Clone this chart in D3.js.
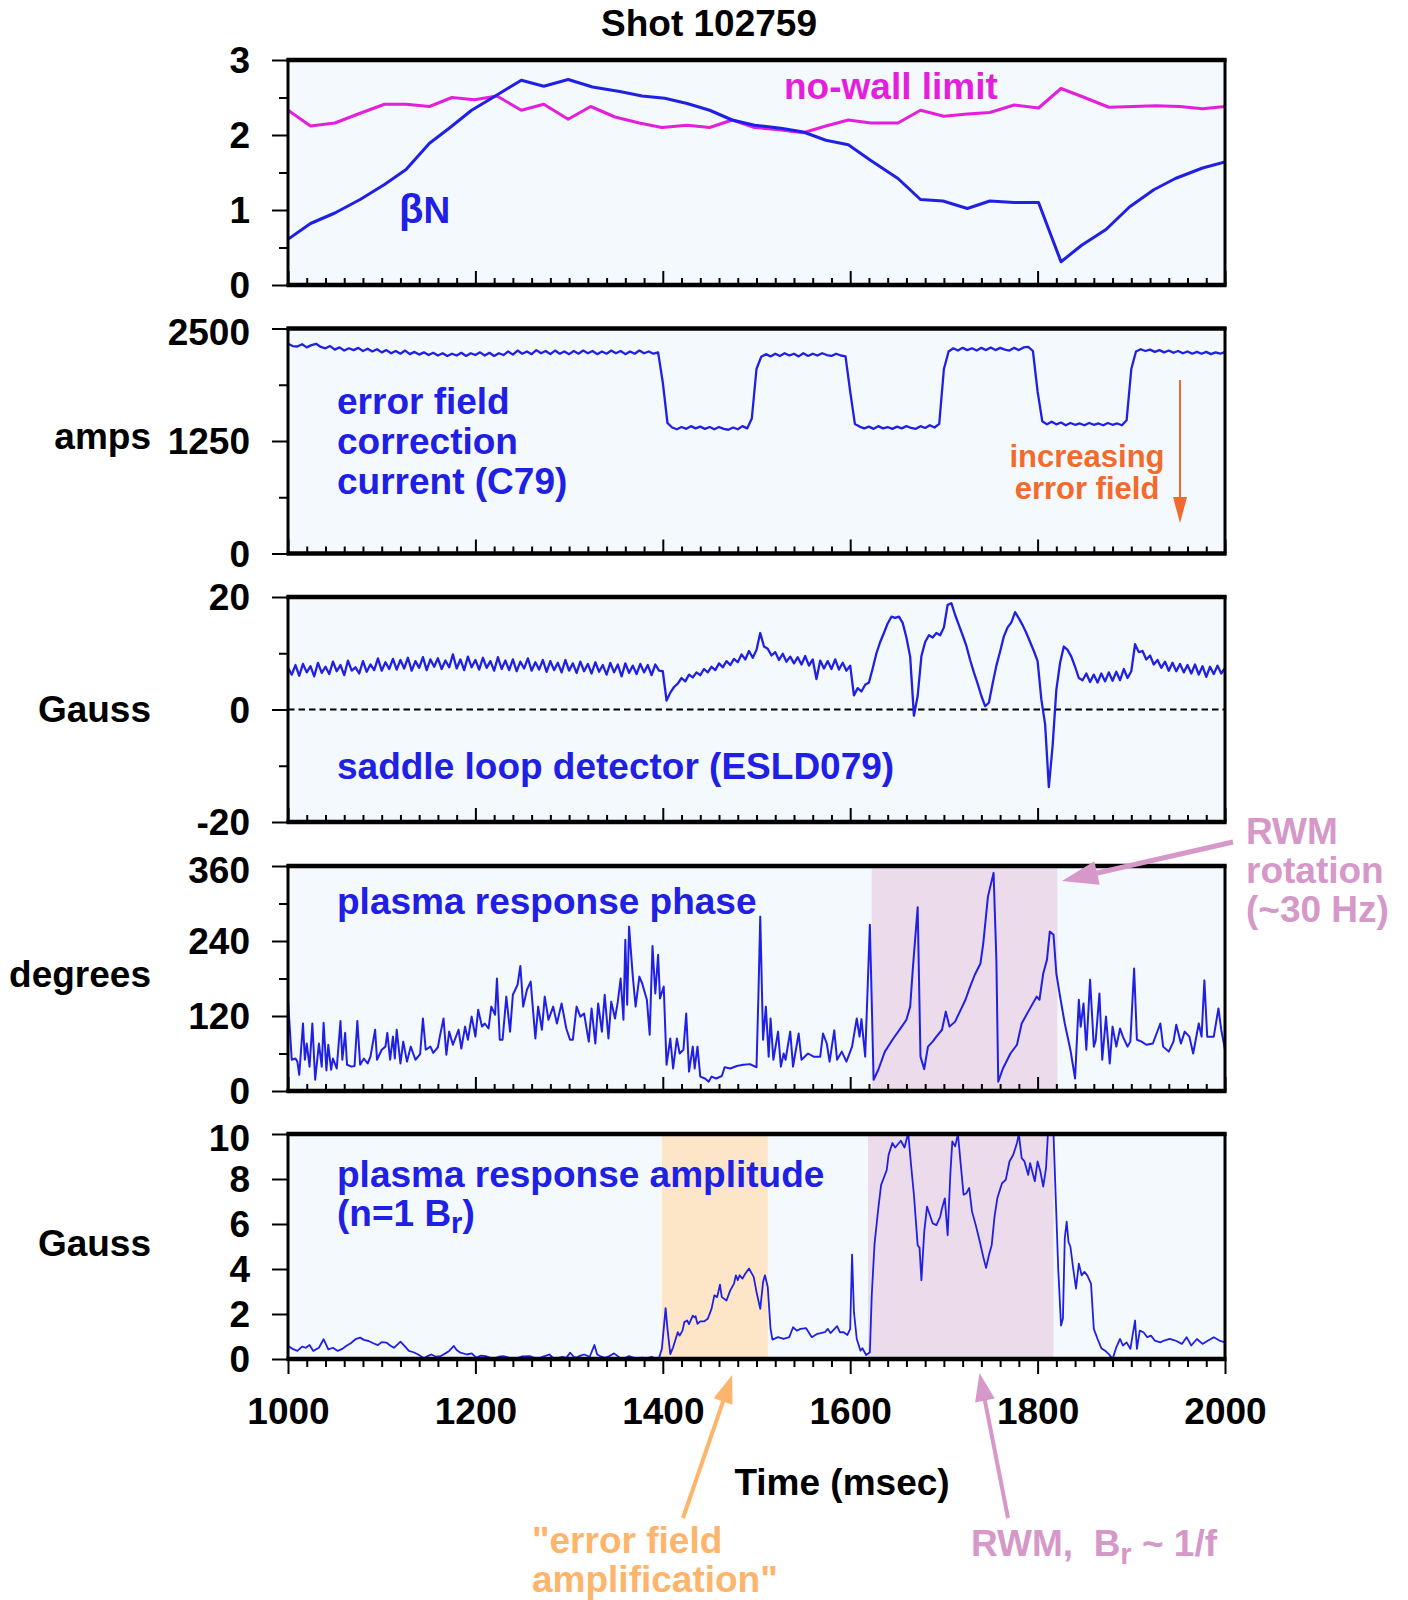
<!DOCTYPE html>
<html>
<head>
<meta charset="utf-8">
<script src="https://cdn.jsdelivr.net/npm/d3@7"></script>
<style>
  html, body { margin: 0; padding: 0; background: #ffffff; }
  svg text { font-family: "Liberation Sans", Arial, Helvetica, sans-serif; font-weight: bold; }
</style>
</head>
<body>
<svg id="chart" width="1408" height="1600"></svg>
<script>
// ---------- time axis ----------
const timeDomain = [1000, 2000];
const timeTickLabels = [1000, 1200, 1400, 1600, 1800, 2000];

// ---------- panel 1: normalized beta and the no-wall stability limit ----------
const betaTime = [1000,1024,1050,1077,1103,1126,1151,1172,1196,1220,1249,1273,1299,1325,1354,1378,1402,1426,1450,1474,1498,1526,1550,1574,1598,1622,1651,1675,1699,1725,1749,1775,1801,1825,1847,1873,1898,1924,1947,1976,2000];
const betaN = [0.61,0.82,0.96,1.14,1.34,1.54,1.89,2.09,2.33,2.51,2.73,2.65,2.74,2.64,2.58,2.52,2.49,2.42,2.33,2.20,2.13,2.09,2.04,1.93,1.87,1.66,1.42,1.14,1.12,1.02,1.12,1.10,1.10,0.31,0.53,0.74,1.04,1.27,1.42,1.56,1.64];
const noWallTime = [1000,1024,1050,1077,1103,1126,1151,1175,1199,1223,1249,1273,1299,1323,1349,1375,1399,1426,1450,1474,1498,1524,1550,1574,1598,1622,1651,1675,1700,1725,1749,1775,1801,1825,1850,1876,1902,1926,1952,1976,2000];
const noWallLimit = [2.33,2.12,2.16,2.29,2.41,2.41,2.38,2.50,2.47,2.52,2.33,2.41,2.21,2.38,2.24,2.16,2.10,2.13,2.10,2.20,2.10,2.07,2.03,2.12,2.20,2.16,2.16,2.33,2.25,2.28,2.30,2.40,2.36,2.62,2.50,2.37,2.38,2.39,2.38,2.35,2.38];
const betaTicks = [0, 1, 2, 3];
const betaMinorTicks = [0.5, 1.5, 2.5];

// ---------- panel 2: error field correction current C79 (sampled every 5 ms) ----------
const c79Start = 1000, c79Step = 5;
const c79Current = [
  2330,2305,2300,2325,2290,2315,2330,2295,2280,2305,
  2265,2290,2255,2280,2260,2285,2250,2275,2245,2270,
  2235,2260,2225,2250,2220,2255,2215,2240,2210,2235,
  2205,2230,2200,2225,2195,2220,2200,2230,2195,2225,
  2205,2235,2200,2230,2195,2225,2205,2245,2210,2255,
  2220,2245,2215,2260,2225,2250,2215,2255,2220,2245,
  2215,2250,2220,2255,2225,2250,2215,2245,2220,2255,
  2225,2250,2215,2245,2220,2255,2225,2245,2220,2235,
  1900,1450,1400,1380,1405,1385,1415,1390,1410,1385,
  1405,1380,1405,1385,1375,1400,1380,1415,1390,1500,
  2050,2185,2215,2190,2220,2195,2225,2200,2220,2190,
  2225,2195,2220,2200,2225,2205,2195,2220,2200,2190,
  1800,1440,1410,1390,1410,1385,1415,1390,1405,1385,
  1410,1390,1415,1395,1385,1415,1395,1425,1400,1440,
  2050,2245,2280,2255,2285,2260,2280,2255,2285,2260,
  2290,2260,2285,2265,2255,2285,2260,2290,2295,2250,
  1800,1470,1435,1465,1435,1455,1425,1450,1430,1445,
  1425,1450,1430,1445,1425,1450,1430,1445,1425,1480,
  2050,2245,2270,2250,2265,2240,2260,2235,2255,2230,
  2250,2225,2245,2220,2240,2220,2240,2215,2235,2220,
  2240
];
const ampsTicks = [0, 1250, 2500];
const ampsMinorTicks = [625, 1875];

// ---------- panel 3: saddle loop detector ESLD079 (sampled every 4 ms) ----------
const esldStart = 1000, esldStep = 4;
const esldField = [
  7.4,6.2,7.9,6.0,8.1,6.6,7.7,5.9,8.3,6.5,
  7.6,6.3,8.5,6.8,7.9,6.1,8.7,6.9,7.5,6.4,
  8.6,6.7,8.0,7.0,9.1,6.9,8.4,7.2,9.0,7.1,
  8.8,7.3,9.2,6.9,8.6,7.4,9.3,7.0,8.9,7.6,
  9.1,7.2,8.7,7.5,9.8,7.3,8.9,7.0,9.4,7.5,
  8.8,7.1,9.2,7.4,8.6,6.9,9.3,7.2,8.7,7.0,
  8.9,6.8,8.5,7.3,9.1,6.9,8.4,7.1,8.8,6.7,
  8.6,7.0,8.3,6.6,8.8,6.9,8.2,6.5,8.5,6.8,
  8.1,6.4,8.4,6.7,7.9,6.2,8.3,6.6,8.0,5.9,
  8.2,6.5,7.8,6.3,8.1,6.6,7.9,6.1,8.0,6.9,
  6.8,1.6,3.0,4.0,4.6,5.6,5.0,6.2,5.7,6.6,
  6.1,7.2,6.6,7.6,7.0,8.2,7.5,8.6,7.9,9.0,
  8.4,9.8,8.9,10.4,9.2,10.6,13.6,11.2,10.8,9.6,
  10.2,8.8,9.9,8.5,9.4,8.2,9.3,8.0,9.5,7.8,
  8.9,5.4,8.7,7.3,8.6,7.2,8.9,7.1,8.3,6.9,
  7.8,2.5,3.8,3.2,4.4,4.8,7.3,10.0,12.0,13.6,
  15.3,16.5,16.3,16.5,15.4,12.8,9.4,-1.1,2.4,9.5,
  12.0,13.2,12.8,13.6,13.2,14.6,18.6,18.9,16.8,15.0,
  13.2,11.3,8.8,6.6,4.6,2.4,0.6,1.2,4.6,7.8,
  10.3,13.0,14.6,15.5,17.3,16.2,15.0,13.6,12.0,10.4,
  8.6,1.8,-2.6,-13.8,-6.5,3.5,8.3,11.2,10.6,9.4,
  7.6,5.6,5.2,6.4,4.9,6.2,4.8,6.4,5.0,6.6,
  5.1,6.7,5.2,7.2,5.6,6.8,11.6,10.2,10.4,8.9,
  9.6,8.0,8.8,7.4,8.5,6.9,8.3,6.8,8.1,6.6,
  7.9,6.4,8.0,6.2,7.7,5.8,7.6,6.3,7.8,6.4,
  7.4
];
const gaussTicks = [-20, 0, 20];
const gaussMinorTicks = [-10, 10];

// ---------- panel 4: plasma response phase ----------
const phaseTime = [1000,1004,1008,1010,1012,1016,1018,1020,1023,1026,1029,1033,1036,1038,1041,1043,1046,1048,1052,1056,1058,1061,1063,1068,1071,1074,1077,1081,1085,1088,1093,1095,1100,1104,1106,1109,1112,1114,1116,1120,1123,1127,1131,1136,1141,1144,1147,1152,1155,1160,1162,1166,1169,1172,1176,1182,1185,1189,1192,1196,1200,1203,1207,1210,1214,1217,1221,1223,1226,1229,1233,1237,1240,1245,1248,1251,1255,1259,1264,1267,1271,1274,1278,1283,1287,1292,1297,1301,1304,1308,1312,1316,1321,1324,1328,1331,1335,1338,1342,1345,1349,1352,1355,1358,1360,1362,1364,1368,1371,1375,1378,1383,1386,1389,1392,1395,1397,1401,1404,1408,1411,1415,1418,1422,1425,1428,1432,1434,1437,1440,1445,1449,1452,1457,1463,1466,1472,1479,1486,1493,1500,1502,1504,1507,1510,1513,1515,1518,1523,1526,1529,1531,1536,1539,1545,1548,1555,1561,1568,1571,1575,1578,1583,1586,1591,1596,1602,1607,1610,1612,1616,1621,1625,1630,1637,1646,1655,1660,1664,1667,1672,1675,1679,1683,1688,1692,1698,1702,1706,1712,1717,1723,1728,1733,1739,1742,1747,1753,1756,1758,1763,1771,1778,1783,1790,1799,1802,1806,1810,1813,1817,1820,1824,1829,1835,1840,1844,1846,1849,1852,1856,1860,1862,1866,1869,1873,1877,1880,1884,1888,1891,1896,1899,1903,1906,1911,1916,1923,1931,1934,1940,1945,1948,1953,1957,1962,1966,1972,1975,1978,1981,1988,1993,1996,2000];
const phaseDeg = [146,50,52,47,26,108,50,76,39,108,18,76,39,109,33,74,34,52,36,112,50,93,42,39,40,112,42,52,44,55,98,50,66,71,93,50,87,52,98,44,79,47,71,50,59,116,66,71,61,70,87,116,58,95,74,98,68,103,82,119,87,130,103,108,100,135,122,180,82,82,151,95,154,170,200,135,162,175,84,135,98,151,114,135,108,140,100,82,82,135,119,124,79,132,76,140,95,154,84,143,116,143,180,114,242,138,263,183,135,183,172,146,90,232,156,218,148,167,42,84,36,84,60,66,124,31,71,36,71,23,20,15,23,20,24,38,36,40,42,43,38,150,279,82,135,55,116,50,95,39,60,50,95,39,92,50,60,55,55,92,76,47,97,50,63,47,71,116,87,115,55,266,18,34,63,84,103,114,135,199,294,55,35,71,79,87,98,127,103,111,127,146,167,186,204,236,311,349,210,15,36,60,74,108,127,151,146,188,210,255,250,188,151,108,66,20,146,103,140,66,178,71,81,156,50,119,44,103,71,100,87,71,79,196,82,79,74,76,108,71,63,79,106,76,95,87,60,108,87,177,87,87,132,98,66];
const degreeTicks = [0, 120, 240, 360];
const degreeMinorTicks = [60, 180, 300];
const rotationWindow = [1623, 1821];

// ---------- panel 5: plasma response amplitude, n=1 Br ----------
const ampTime = [1000,1005,1010,1015,1019,1023,1027,1033,1038,1043,1048,1053,1058,1062,1067,1072,1077,1081,1086,1091,1096,1100,1105,1109,1113,1117,1120,1125,1129,1134,1139,1145,1150,1153,1158,1163,1168,1172,1177,1180,1184,1191,1196,1201,1206,1211,1216,1220,1225,1230,1236,1244,1250,1258,1263,1268,1273,1279,1283,1287,1293,1297,1301,1305,1308,1312,1316,1322,1327,1330,1333,1338,1343,1348,1354,1359,1364,1369,1373,1378,1383,1388,1392,1396,1399,1403,1405,1408,1411,1416,1418,1421,1423,1426,1428,1432,1434,1435,1437,1440,1444,1448,1452,1455,1458,1461,1463,1468,1472,1476,1478,1480,1482,1485,1488,1492,1497,1500,1504,1507,1509,1512,1515,1517,1523,1529,1535,1539,1543,1547,1553,1559,1565,1573,1576,1579,1586,1589,1593,1597,1600,1602,1604,1607,1611,1613,1617,1621,1623,1626,1630,1633,1637,1639,1641,1645,1648,1652,1654,1658,1661,1662,1665,1668,1672,1674,1676,1679,1682,1685,1688,1692,1696,1698,1701,1704,1707,1709,1712,1715,1718,1721,1724,1727,1730,1734,1738,1742,1745,1748,1751,1754,1757,1762,1766,1770,1774,1778,1780,1783,1786,1790,1792,1797,1800,1803,1806,1809,1811,1817,1819,1822,1825,1827,1829,1831,1833,1835,1838,1841,1844,1847,1850,1853,1857,1860,1864,1868,1872,1876,1880,1884,1888,1891,1895,1899,1904,1906,1909,1913,1917,1921,1925,1931,1935,1941,1947,1954,1959,1964,1970,1976,1982,1988,1994,2000];
const ampGauss = [0.58,0.45,0.36,0.55,0.5,0.62,0.36,0.5,0.88,0.43,0.5,0.36,0.45,0.58,0.7,0.88,0.95,0.85,0.8,0.7,0.62,0.75,0.73,0.6,0.5,0.65,0.77,0.55,0.36,0.3,0.2,0.03,0.15,0.2,0.1,0.13,0.25,0.36,0.58,0.4,0.28,0.2,0.25,0.06,0.15,0.13,0.05,0.03,0.1,0.13,0.05,0.03,0.12,0.13,0.05,0.03,0.12,0.2,0.05,0.03,0.1,0.05,0.28,0.1,0.06,0.15,0.2,0.1,0.62,0.2,0.13,0.05,0.13,0.25,0.06,0.03,0.13,0.05,0.03,0.06,0.03,0.1,0.03,0.06,0.45,2.26,1.34,0.22,0.52,1.19,1.04,1.26,1.64,1.71,1.55,1.93,1.85,1.9,1.56,1.67,1.67,1.79,2.23,2.83,2.75,3.3,2.75,2.6,3.05,3.35,3.72,3.5,3.72,3.57,3.79,4.02,3.65,2.98,2.23,3.42,3.72,3.2,1.34,0.86,0.97,0.89,0.97,1.41,1.26,1.34,1.37,0.97,1.12,1.19,1.34,1.15,1.46,1.19,1.19,1.07,1.34,4.64,2.08,0.89,0.37,0.48,0.18,0.3,2.83,5.13,6.7,7.74,8.18,8.4,9.08,9.6,9.4,9.6,9.7,9.4,9.9,10,8.6,7.3,5.06,4.94,3.5,5.65,6.77,6.4,6.03,5.95,6.32,6.7,7.14,5.5,8.33,9.67,9.45,10,8.63,7.3,7.37,7.6,6.55,5.95,5.28,4.54,4.05,4.61,5.06,6.32,7.14,7.81,7.96,8.78,9.08,9.6,10,8.93,8.78,8.18,8.7,7.9,8.78,8.33,7.66,8.48,10,10,7.6,4.02,1.49,1.79,5.36,6.1,5.2,5.0,4.02,3.13,4.24,3.72,3.87,3.72,3.35,1.34,0.89,0.48,0.37,0.22,0,0.52,0.89,0.6,0.74,0.45,1.71,0.45,1.26,1.19,0.97,1.04,0.82,0.74,0.82,0.89,0.82,0.67,0.97,0.6,0.89,0.67,0.82,0.97,0.82,0.74];
const ampTicks = [0, 2, 4, 6, 8, 10];
const ampMinorTicks = [];
const amplificationWindow = [1399, 1512];
const rwmWindow = [1619, 1817];

// ---------- colours ----------
const traceBlue = "#2020e4";
const limitMagenta = "#e41fdc";
const noteOrange = "#f26a2c";
const softOrange = "#fdb56b";
const softPink = "#d598c8";
const plotFill = "#f4f9fd";
const pinkBand = "#ecdbea";
const orangeBand = "#fde5c8";

// ---------- layout ----------
const svg = d3.select("#chart");
const plotLeft = 288, plotRight = 1225;
const panelTop = [60, 328.5, 597, 866, 1134];
const panelH = 225;
const fontSize = 37;

const x = d3.scaleLinear().domain(timeDomain).range([plotLeft, plotRight]);
const timeMinor = d3.range(timeDomain[0], timeDomain[1] + 1, 20).filter(t => !timeTickLabels.includes(t));
const plainNumber = d => String(d);

const series = (start, step, values) => values.map((v, i) => [start + i * step, v]);
const pairs = (ts, vs) => ts.map((t, i) => [t, vs[i]]);

const panels = [
  { domain: [0, 3], major: betaTicks, minor: betaMinorTicks, title: null, topNudge: false },
  { domain: [0, 2500], major: ampsTicks, minor: ampsMinorTicks, title: "amps", topNudge: true },
  { domain: [-20, 20], major: gaussTicks, minor: gaussMinorTicks, title: "Gauss", topNudge: false },
  { domain: [0, 360], major: degreeTicks, minor: degreeMinorTicks, title: "degrees", topNudge: true },
  { domain: [0, 10], major: ampTicks, minor: ampMinorTicks, title: "Gauss", topNudge: true }
];
const titleShift = { amps: 8, Gauss: 12, degrees: 8 };

panels.forEach((p, i) => {
  const top = panelTop[i], bottom = top + panelH;
  p.y = d3.scaleLinear().domain(p.domain).range([bottom, top]);
  p.top = top; p.bottom = bottom;
  p.g = svg.append("g");
  p.g.append("rect").attr("x", plotLeft).attr("y", top)
    .attr("width", plotRight - plotLeft).attr("height", panelH).attr("fill", plotFill);
  svg.append("clipPath").attr("id", "clip" + i).append("rect")
    .attr("x", plotLeft).attr("y", top).attr("width", plotRight - plotLeft).attr("height", panelH);
  p.bands = p.g.append("g");
  p.marks = p.g.append("g").attr("clip-path", `url(#clip${i})`);
});

function band(p, win, color) {
  p.bands.append("rect").attr("x", x(win[0])).attr("y", p.top)
    .attr("width", x(win[1]) - x(win[0])).attr("height", panelH).attr("fill", color);
}
function trace(p, data, color, width) {
  const line = d3.line().x(d => x(d[0])).y(d => p.y(d[1]));
  p.marks.append("path").datum(data).attr("d", line)
    .attr("fill", "none").attr("stroke", color).attr("stroke-width", width)
    .attr("stroke-linejoin", "round").attr("stroke-linecap", "round");
}

// shaded windows
band(panels[3], rotationWindow, pinkBand);
band(panels[4], amplificationWindow, orangeBand);
band(panels[4], rwmWindow, pinkBand);

// zero reference for the saddle loop signal
panels[2].marks.append("line")
  .attr("x1", plotLeft).attr("x2", plotRight)
  .attr("y1", panels[2].y(0)).attr("y2", panels[2].y(0))
  .attr("stroke", "#000").attr("stroke-width", 2).attr("stroke-dasharray", "6.5,4");

// traces
trace(panels[0], pairs(noWallTime, noWallLimit), limitMagenta, 3);
trace(panels[0], pairs(betaTime, betaN), traceBlue, 3);
trace(panels[1], series(c79Start, c79Step, c79Current), traceBlue, 2.3);
trace(panels[2], series(esldStart, esldStep, esldField), traceBlue, 2.3);
trace(panels[3], pairs(phaseTime, phaseDeg), traceBlue, 2);
trace(panels[4], pairs(ampTime, ampGauss), traceBlue, 1.8);

// frames and axes
function styleAxis(g) {
  g.select(".domain").remove();
  g.selectAll(".tick line").attr("stroke", "#000").attr("stroke-width", 2);
  g.selectAll(".tick text").attr("fill", "#000").style("font-size", fontSize + "px")
    .style("font-family", '"Liberation Sans", Arial, Helvetica, sans-serif').style("font-weight", "bold");
}

panels.forEach((p, i) => {
  const g = p.g;
  g.append("rect").attr("x", plotLeft).attr("y", p.top)
    .attr("width", plotRight - plotLeft).attr("height", panelH)
    .attr("fill", "none").attr("stroke", "#000").attr("stroke-width", 3);
  [p.top, p.bottom].forEach(yy => g.append("line")
    .attr("x1", plotLeft - 1.5).attr("x2", plotRight + 1.5).attr("y1", yy).attr("y2", yy)
    .attr("stroke", "#000").attr("stroke-width", 4.5));

  // y axis
  const last = p.major.length - 1;
  g.append("g").attr("transform", `translate(${plotLeft - 1},0)`)
    .call(d3.axisLeft(p.y).tickValues(p.major).tickSize(15).tickPadding(22).tickFormat(plainNumber))
    .call(styleAxis)
    .call(a => a.selectAll(".tick text").attr("dy", (d, k) => (k === last && p.topNudge) ? "0.44em" : "0.35em"));
  if (p.minor.length) {
    g.append("g").attr("transform", `translate(${plotLeft - 1},0)`)
      .call(d3.axisLeft(p.y).tickValues(p.minor).tickSize(8).tickFormat(""))
      .call(styleAxis);
  }

  // time axis
  if (i < 4) {
    g.append("g").attr("transform", `translate(0,${p.bottom - 1})`)
      .call(d3.axisTop(x).tickValues(timeTickLabels).tickSize(13).tickFormat(""))
      .call(styleAxis);
    g.append("g").attr("transform", `translate(0,${p.bottom - 1})`)
      .call(d3.axisTop(x).tickValues(timeMinor).tickSize(6).tickFormat(""))
      .call(styleAxis);
  } else {
    g.append("g").attr("transform", `translate(0,${p.bottom + 1})`)
      .call(d3.axisBottom(x).tickValues(timeTickLabels).tickSize(14).tickPadding(24).tickFormat(plainNumber))
      .call(styleAxis);
    g.append("g").attr("transform", `translate(0,${p.bottom + 1})`)
      .call(d3.axisBottom(x).tickValues(timeMinor).tickSize(7).tickFormat(""))
      .call(styleAxis);
  }

  if (p.title) {
    const mid = (p.top + p.bottom) / 2;
    const shift = (i === 4) ? 9 : titleShift[p.title];
    svg.append("text").attr("x", 151).attr("y", mid + shift)
      .attr("text-anchor", "end").attr("fill", "#000").style("font-size", fontSize + "px").text(p.title);
  }
});

// ---------- text ----------
function label(txt, px, py, color, size, anchor) {
  return svg.append("text").attr("x", px).attr("y", py)
    .attr("fill", color).attr("text-anchor", anchor || "start")
    .style("font-size", (size || fontSize) + "px").style("white-space", "pre").text(txt);
}

label("Shot 102759", 709, 36, "#000", fontSize, "middle");
label("Time (msec)", 842, 1495, "#000", fontSize, "middle");

label("no-wall limit", 784, 99, limitMagenta);
const betaLabel = svg.append("text").attr("x", 399).attr("y", 223).attr("fill", traceBlue);
betaLabel.append("tspan").style("font-size", "40px").text("β");
betaLabel.append("tspan").style("font-size", fontSize + "px").text("N");

label("error field", 337, 414, traceBlue);
label("correction", 337, 454, traceBlue);
label("current (C79)", 337, 494, traceBlue);
label("increasing", 1087, 467, noteOrange, 31, "middle");
label("error field", 1087, 499, noteOrange, 31, "middle");

label("saddle loop detector (ESLD079)", 337, 779, traceBlue);
label("plasma response phase", 337, 914, traceBlue);
label("plasma response amplitude", 337, 1187, traceBlue);
const brLabel = svg.append("text").attr("x", 337).attr("y", 1226).attr("fill", traceBlue).style("font-size", fontSize + "px");
brLabel.append("tspan").text("(n=1 B");
brLabel.append("tspan").attr("dy", 7).style("font-size", "29px").text("r");
brLabel.append("tspan").attr("dy", -7).text(")");

label("RWM", 1246, 844, softPink);
label("rotation", 1246, 883, softPink);
label("(~30 Hz)", 1246, 922, softPink);

label("\"error field", 532, 1553, softOrange);
label("amplification\"", 532, 1592, softOrange);

const rwmLabel = svg.append("text").attr("x", 971).attr("y", 1556).attr("fill", softPink)
  .style("font-size", fontSize + "px").style("white-space", "pre");
rwmLabel.append("tspan").text("RWM,  B");
rwmLabel.append("tspan").attr("dy", 8).style("font-size", "29px").text("r");
rwmLabel.append("tspan").attr("dy", -8).text(" ~ 1/f");

// ---------- arrows ----------
function arrow(x1, y1, x2, y2, color, width, headLen, headHalf) {
  const dx = x2 - x1, dy = y2 - y1, len = Math.hypot(dx, dy);
  const ux = dx / len, uy = dy / len;
  const bx = x2 - ux * headLen, by = y2 - uy * headLen;
  svg.append("line").attr("x1", x1).attr("y1", y1).attr("x2", bx + ux * 2).attr("y2", by + uy * 2)
    .attr("stroke", color).attr("stroke-width", width);
  svg.append("path")
    .attr("d", `M${x2},${y2}L${bx - uy * headHalf},${by + ux * headHalf}L${bx + uy * headHalf},${by - ux * headHalf}Z`)
    .attr("fill", color);
}

arrow(x(1952), 380, x(1952), 523, noteOrange, 2, 26, 7);
arrow(1233, 842, x(1826), panels[3].y(336), softPink, 5, 36, 12);
arrow(683, 1518, x(1474), panels[4].bottom + 16, softOrange, 4, 28, 10);
arrow(1008, 1518, x(1738), panels[4].bottom + 14, softPink, 4, 28, 10);
</script>
</body>
</html>
